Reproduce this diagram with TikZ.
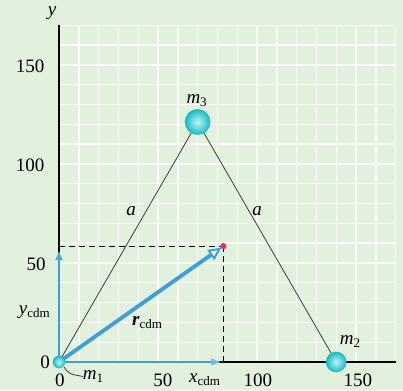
\documentclass[tikz,border=0pt]{standalone}
\usepackage{fontspec}
\setmainfont{Liberation Serif}
\usetikzlibrary{arrows.meta}
\definecolor{bgc}{RGB}{226,240,222}
\definecolor{gridc}{RGB}{248,251,246}
\definecolor{bluec}{RGB}{62,158,218}
\definecolor{tipc}{RGB}{70,178,205}
\definecolor{ballc}{RGB}{20,185,195}
\definecolor{ballh}{RGB}{190,245,245}
\definecolor{dotc}{RGB}{225,50,110}
\definecolor{linec}{RGB}{60,60,60}
\newcommand\lsub[1]{\raisebox{-0.35ex}{\fontsize{13}{13}\selectfont\upshape\mdseries #1}}
\tikzset{
  lbl/.style={font=\fontsize{19}{22}\selectfont, inner sep=0pt},
  side/.style={draw=linec, line width=0.8pt},
  dash line/.style={draw=black, line width=0.8pt, dash pattern=on 6pt off 4pt},
  bluearrow/.style={draw=bluec, line width=2.6pt},
  ballshade/.style={inner color=ballh, outer color=ballc},
}
\begin{document}
\begin{tikzpicture}[x=1pt,y=1pt]
\fill[bgc] (0,0) rectangle (403,390);
\useasboundingbox (0,0) rectangle (403,390);
\begin{scope}[shift={(59,28)}, x=1.98pt, y=1.98pt]
  % grid
  \draw[gridc, line width=1.4pt] (0,0) grid[step=10] (170,170);
  % named points
  \coordinate (m1) at (0,0);
  \coordinate (m2) at (140,0);
  \coordinate (m3) at (70,121.2);
  \coordinate (cm) at (83,58.5);
  \coordinate (ytop) at (0,170);
  \coordinate (xend) at (170,0);
  \coordinate (ycm) at (0,58.5);
  \coordinate (xcm) at (83,0);
  \coordinate (ytip) at (0,56.5);
  \coordinate (xtip) at (82,0);
  % axes
  \draw[black, line width=1.3pt] (m1) -- (ytop);
  \draw[black, line width=1.3pt] (m1) -- (xend);
  % triangle sides
  \draw[side] (m1) -- (m3);
  \draw[side] (m3) -- (m2);
  % dashed lines
  \draw[dash line] (ycm) -- (cm);
  \draw[dash line] (cm) -- (xcm);
  % blue component arrows
  \draw[bluearrow, -{Latex[length=10pt,width=8pt,color=tipc]}] (m1) -- (ytip);
  \draw[bluearrow, -{Latex[length=10pt,width=8pt,color=bluec!70!white]}] (m1) -- (xtip);
  % r_cdm
  \draw[draw=bluec, line width=3.8pt, shorten >=2.5pt,
        -{Triangle[length=13pt,width=12pt,fill=white,line width=2pt]}] (m1) -- (cm);
  % balls
  \shade[ballshade] (m1) circle (3.2);
  \shade[ballshade] (m2) circle (5.2);
  \shade[ballshade] (m3) circle (6.5);
  \fill[dotc] (cm) circle (1.6);
  % leader for m1
  \coordinate (lead) at (12,-7.3);
  \draw[linec, line width=0.8pt] (2.5,-2.5) .. controls (5,-6) .. (lead);
  % labels
  \node[lbl] (ly) at (-3.5,176) {\itshape y};
  \node[lbl] (t150) at (-14.6,149.5) {150};
  \node[lbl] (t100) at (-14.6,99.5) {100};
  \node[lbl] (t50) at (-11.6,49.5) {50};
  \node[lbl] (t0y) at (-7,0) {0};
  \node[lbl] (t0x) at (0.5,-9.2) {0};
  \node[lbl] (tx50) at (52.5,-9.2) {50};
  \node[lbl] (tx100) at (100.5,-9.2) {100};
  \node[lbl] (tx150) at (151,-9.2) {150};
  \node[lbl, anchor=west] (lm1) at (lead) {\itshape m\lsub{1}};
  \node[lbl] (lm2) at (147,10.5) {\itshape m\lsub{2}};
  \node[lbl] (lm3) at (69.5,132) {\itshape m\lsub{3}};
  \node[lbl] (la1) at (36.4,76) {\itshape a};
  \node[lbl] (la2) at (100,76.3) {\itshape a};
  \node[lbl] (lr) at (44.5,20) {\bfseries\itshape r\lsub{cdm}};
  \node[lbl] (lyc) at (-12.5,25) {\itshape y\lsub{cdm}};
  \node[lbl] (lxc) at (73.5,-9) {\itshape x\lsub{cdm}};
\end{scope}
\end{tikzpicture}
\end{document}
